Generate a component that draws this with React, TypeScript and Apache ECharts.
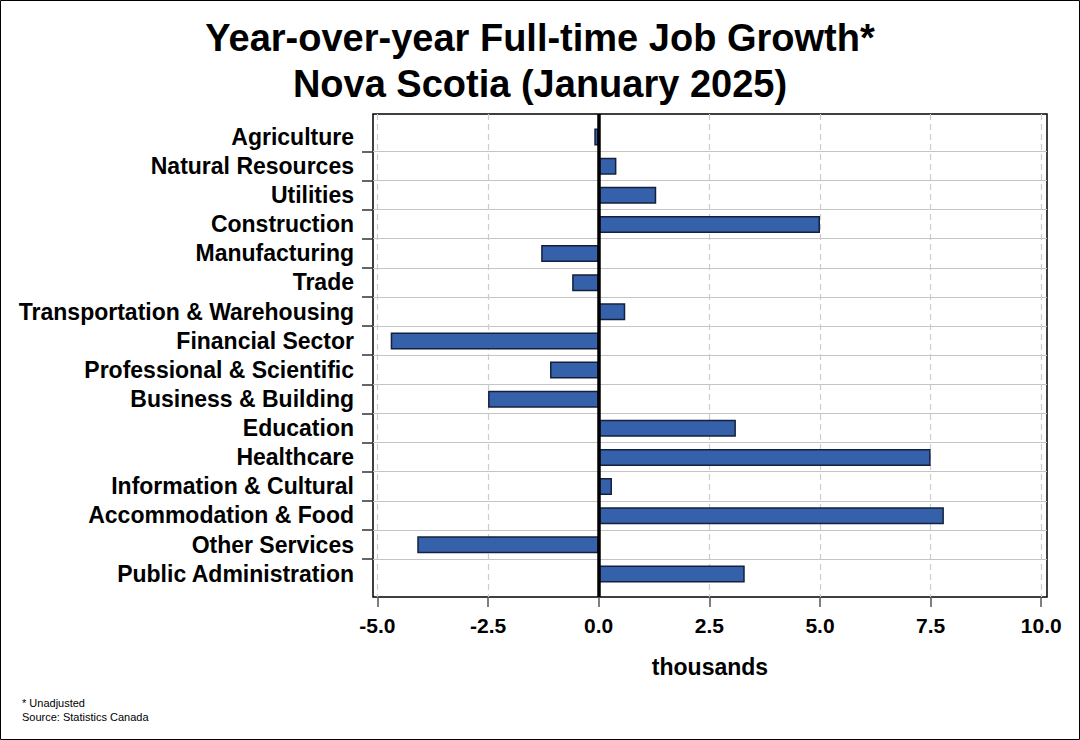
import React, { useEffect, useRef } from "react";
import * as echarts from "echarts";

const categories = [
  "Agriculture",
  "Natural Resources",
  "Utilities",
  "Construction",
  "Manufacturing",
  "Trade",
  "Transportation & Warehousing",
  "Financial Sector",
  "Professional & Scientific",
  "Business & Building",
  "Education",
  "Healthcare",
  "Information & Cultural",
  "Accommodation & Food",
  "Other Services",
  "Public Administration",
];

const values = [-0.1, 0.4, 1.3, 5.0, -1.3, -0.6, 0.6, -4.7, -1.1, -2.5, 3.1, 7.5, 0.3, 7.8, -4.1, 3.3];

const xTicks = [-5, -2.5, 0, 2.5, 5, 7.5, 10];

const FONT = "'Liberation Sans', Arial, sans-serif";

export default function App() {
  const ref = useRef<HTMLDivElement>(null);
  useEffect(() => {
    if (!ref.current) return;
    const chart = echarts.init(ref.current, undefined, { renderer: "svg" });
    const catIdx = categories.map((_, i) => i);
    const boundaries = categories.slice(1).map((_, i) => i + 0.5);
    chart.setOption({
      animation: false,
      backgroundColor: "#ffffff",
      title: {
        text: "Year-over-year Full-time Job Growth*\nNova Scotia (January 2025)",
        left: 535,
        textAlign: "center",
        top: 10,
        textStyle: {
          fontFamily: FONT,
          fontWeight: "bold",
          fontSize: 38,
          lineHeight: 46,
          color: "#000",
        },
      },
      grid: [
        {
          left: 373,
          right: 33,
          top: 114,
          bottom: 143,
          show: true,
          borderColor: "#000",
          borderWidth: 1.5,
          backgroundColor: "transparent",
        },
        {
          left: 373,
          right: 33,
          top: 122.5,
          bottom: 151.5,
        },
      ],
      xAxis: [
        {
          type: "value",
          gridIndex: 0,
          position: "bottom",
          min: -5.1,
          max: 10.13,
          name: "thousands",
          nameLocation: "middle",
          nameGap: 58.5,
          nameTextStyle: { fontFamily: FONT, fontWeight: "bold", fontSize: 23, color: "#000" },
          axisLine: { show: false, onZero: false },
          axisTick: { show: true, customValues: xTicks, length: 10, lineStyle: { color: "#555", width: 1.5 } },
          axisLabel: {
            customValues: xTicks,
            fontFamily: FONT,
            fontWeight: "bold",
            fontSize: 21,
            color: "#000",
            margin: 18,
            formatter: (v: number) => v.toFixed(1),
          },
          splitLine: { show: true, lineStyle: { color: "#cccccc", type: [6, 4], width: 1.2 } },
        },
        {
          type: "value",
          gridIndex: 1,
          min: -5.1,
          max: 10.13,
          show: false,
          axisLine: { onZero: false },
          splitLine: { show: false },
        },
      ],
      yAxis: [
        {
          type: "value",
          gridIndex: 0,
          position: "left",
          min: -0.78,
          max: 15.8,
          inverse: true,
          axisLine: { show: false, onZero: false },
          axisTick: { show: true, customValues: boundaries, length: 11, lineStyle: { color: "#333", width: 1.5 } },
          axisLabel: {
            customValues: catIdx,
            formatter: (v: number) => categories[Math.round(v)] ?? "",
            fontFamily: FONT,
            fontWeight: "bold",
            fontSize: 23,
            color: "#000",
            margin: 19,
          },
          splitLine: { show: true, lineStyle: { color: "#c4c4c4", width: 1.2 } },
        },
        {
          type: "category",
          gridIndex: 1,
          data: categories,
          inverse: true,
          show: false,
          axisLine: { onZero: false },
          splitLine: { show: false },
        },
      ],
      series: [
        {
          type: "bar",
          xAxisIndex: 1,
          yAxisIndex: 1,
          data: values,
          barWidth: 17,
          itemStyle: { color: "#3461aa", borderColor: "#14213d", borderWidth: 1.5 },
        },
        {
          type: "scatter",
          xAxisIndex: 0,
          yAxisIndex: 0,
          data: [],
          markLine: {
            silent: true,
            symbol: "none",
            label: { show: false },
            lineStyle: { color: "#000", width: 3.5, type: "solid" },
            data: [{ xAxis: 0 }],
          },
        },
      ],
      graphic: [
        {
          type: "rect",
          shape: { x: 0.5, y: 0.5, width: 1079, height: 739 },
          style: { fill: "none", stroke: "#000", lineWidth: 1 },
        },
        {
          type: "text",
          left: 22,
          top: 697,
          style: { text: "* Unadjusted", fontFamily: FONT, fontSize: 11, fill: "#000" },
        },
        {
          type: "text",
          left: 22,
          top: 711,
          style: { text: "Source: Statistics Canada", fontFamily: FONT, fontSize: 11, fill: "#000" },
        },
      ],
    });
    return () => chart.dispose();
  }, []);
  return (
    <div
      ref={ref}
      style={{ position: "absolute", left: 0, top: 0, width: 1080, height: 740 }}
    />
  );
}
